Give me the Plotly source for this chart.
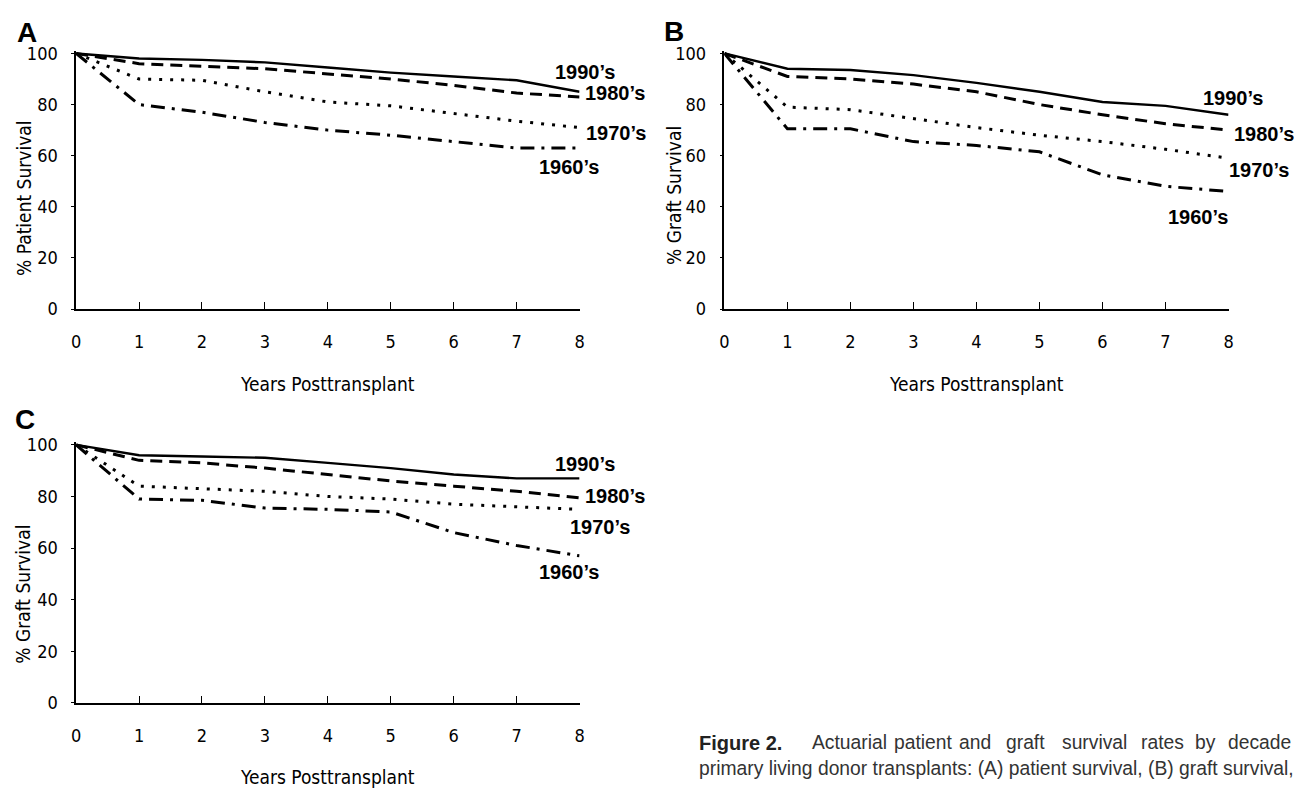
import plotly.graph_objects as go

# ---------------- data ----------------
years = [0, 1, 2, 3, 4, 5, 6, 7, 8]
decades = ["1990’s", "1980’s", "1970’s", "1960’s"]

# Panel A: % patient survival
a_1990 = [100, 98, 97.5, 96.5, 94.5, 92.5, 91, 89.5, 85]
a_1980 = [100, 96, 95, 94, 92, 90, 87.5, 84.5, 83]
a_1970 = [100, 90, 89.5, 85, 81, 79.5, 76.5, 73.5, 71]
a_1960 = [100, 80, 77, 73, 70, 68, 65.5, 63, 63]

# Panel B: % graft survival
b_1990 = [100, 94, 93.5, 91.5, 88.5, 85, 81, 79.5, 76]
b_1980 = [100, 91, 90, 88, 85, 80, 76, 72.5, 70]
b_1970 = [100, 79, 78, 74.5, 71, 68, 65.5, 62.5, 59]
b_1960 = [100, 70.5, 70.5, 65.5, 64, 61.5, 52.5, 48, 46]

# Panel C: % graft survival
c_1990 = [100, 96, 95.5, 95, 93, 91, 88.5, 87, 87]
c_1980 = [100, 94, 93, 91, 88.5, 86, 84, 82, 79.5]
c_1970 = [100, 84, 83, 82, 80, 79, 77, 76, 75]
c_1960 = [100, 79, 78.5, 75.5, 75, 74, 66, 61, 57]

y_ticks = [0, 20, 40, 60, 80, 100]
x_ticks = [0, 1, 2, 3, 4, 5, 6, 7, 8]

# label anchor positions (in data units of each panel)
a_lab_x = [8.09, 8.56, 8.58, 7.83]
a_lab_y = [92.7, 84.4, 68.7, 55.7]
b_lab_x = [8.07, 8.57, 8.49, 7.51]
b_lab_y = [82.6, 68.6, 54.2, 36.2]
c_lab_x = [8.08, 8.57, 8.33, 7.83]
c_lab_y = [92.5, 80.3, 68.2, 50.8]

# ---------------- styles ----------------
W, H = 1303, 794
X_RANGE = [0, 8]
Y_RANGE = [0, 101]
styles = [
    dict(dash="solid", width=2.4),
    dict(dash="12px,7px", width=3),
    dict(dash="3px,8px", width=3),
    dict(dash="14px,7px,3px,7px", width=3),
]
NARROW = "Liberation Sans Narrow, DejaVu Sans Condensed, Arial Narrow, sans-serif"
SANS = "Liberation Sans, Arial, Helvetica, sans-serif"


def px2x(px):
    return px / W


def px2y(py):
    return 1 - py / H


AX0, AX8 = 71.7, 579.0
BX0, BX8 = 725.0, 1233.0


def y_domain(y0px, y100px):
    top = y100px - (y0px - y100px) * (Y_RANGE[1] - 100) / 100
    return [px2y(y0px), px2y(top)]


dom_x_a = [px2x(AX0), px2x(AX8)]
dom_x_b = [px2x(BX0), px2x(BX8)]
dom_y_ab = y_domain(308, 46.5)
dom_y_c = y_domain(711, 447)


def to_paper(v, dom, rng):
    return dom[0] + (v - rng[0]) / (rng[1] - rng[0]) * (dom[1] - dom[0])


fig = go.Figure()

panels = [
    ("x", "y", [a_1990, a_1980, a_1970, a_1960], a_lab_x, a_lab_y, dom_x_a, dom_y_ab),
    ("x2", "y2", [b_1990, b_1980, b_1970, b_1960], b_lab_x, b_lab_y, dom_x_b, dom_y_ab),
    ("x3", "y3", [c_1990, c_1980, c_1970, c_1960], c_lab_x, c_lab_y, dom_x_a, dom_y_c),
]

annotations = []
for xa, ya, series, lx, ly, dx, dy in panels:
    for i, vals in enumerate(series):
        fig.add_trace(go.Scatter(
            x=years, y=vals, xaxis=xa, yaxis=ya, mode="lines",
            line=dict(color="black", **styles[i]), showlegend=False,
            hoverinfo="skip"))
        annotations.append(dict(
            x=to_paper(lx[i], dx, X_RANGE), y=to_paper(ly[i], dy, Y_RANGE),
            xref="paper", yref="paper", text=decades[i],
            showarrow=False, xanchor="center", yanchor="middle",
            font=dict(family=SANS, size=20, color="black", weight="bold")))


def xaxis_cfg(dom, anchor):
    return dict(domain=dom, range=X_RANGE, tickvals=x_ticks, anchor=anchor,
                ticks="inside", ticklen=7, tickwidth=1.3, tickcolor="black",
                showline=True, linecolor="black", linewidth=1.6,
                showgrid=False, zeroline=False, ticklabelstandoff=16,
                tickfont=dict(family=NARROW, size=18, color="black"),
                fixedrange=True)


def yaxis_cfg(dom, anchor):
    return dict(domain=dom, range=Y_RANGE,
                tickvals=y_ticks, ticks="outside", ticklen=3, tickwidth=1,
                tickcolor="black", showline=True, linecolor="black",
                linewidth=1.6, showgrid=False, zeroline=False,
                ticklabelstandoff=10, anchor=anchor,
                tickfont=dict(family=NARROW, size=18, color="black"),
                fixedrange=True)


fig.update_layout(
    width=W, height=H,
    margin=dict(l=0, r=0, t=0, b=0),
    paper_bgcolor="white", plot_bgcolor="white",
    xaxis=xaxis_cfg(dom_x_a, "y"),
    yaxis=yaxis_cfg(dom_y_ab, "x"),
    xaxis2=xaxis_cfg(dom_x_b, "y2"),
    yaxis2=yaxis_cfg(dom_y_ab, "x2"),
    xaxis3=xaxis_cfg(dom_x_a, "y3"),
    yaxis3=yaxis_cfg(dom_y_c, "x3"),
)

# panel letters
for letter, cx, cy in [("A", 22.5, 25), ("B", 674, 24), ("C", 20, 421)]:
    annotations.append(dict(
        x=px2x(cx), y=px2y(cy), xref="paper", yref="paper", text=letter,
        showarrow=False, xanchor="center", yanchor="middle",
        font=dict(family=SANS, size=28, color="black", weight="bold")))

# axis titles
for txt, cx, cy in [("% Patient Survival", 18.5, 195),
                    ("% Graft Survival", 673.5, 192),
                    ("% Graft Survival", 18.5, 600)]:
    annotations.append(dict(
        x=px2x(cx), y=px2y(cy), xref="paper", yref="paper", text=txt,
        textangle=-90, showarrow=False, xanchor="center", yanchor="middle",
        font=dict(family=NARROW, size=19, color="black")))

for cx, cy in [((AX0 + AX8) / 2, 385), ((BX0 + BX8) / 2, 385),
               ((AX0 + AX8) / 2, 787)]:
    annotations.append(dict(
        x=px2x(cx), y=px2y(cy), xref="paper", yref="paper",
        text="Years Posttransplant", showarrow=False,
        xanchor="center", yanchor="middle",
        font=dict(family=NARROW, size=19, color="black")))

# caption (justified first line approximated word by word, centred on
# the word centres measured in the reference)
CAP = 19.3
cap_words = ["Actuarial", "patient", "and", "graft", "survival", "rates",
             "by", "decade"]
cap_word_cx = [851, 925.5, 977.5, 1028.5, 1098, 1166.5, 1209.5, 1264]
annotations.append(dict(
    x=px2x(697), y=px2y(752), xref="paper", yref="paper",
    text="<b>Figure 2.</b>", showarrow=False, xanchor="left",
    yanchor="middle", font=dict(family=SANS, size=20, color="#222")))
for w, wx in zip(cap_words, cap_word_cx):
    annotations.append(dict(
        x=px2x(wx), y=px2y(752), xref="paper", yref="paper", text=w,
        showarrow=False, xanchor="center", yanchor="middle",
        font=dict(family=SANS, size=CAP, color="#333")))
annotations.append(dict(
    x=px2x(697), y=px2y(778), xref="paper", yref="paper",
    text="primary living donor transplants: (A) patient survival, (B) graft survival,",
    showarrow=False, xanchor="left", yanchor="middle",
    font=dict(family=SANS, size=CAP, color="#333")))

fig.update_layout(annotations=annotations)

fig.write_html("out.html", config={"displayModeBar": False})
